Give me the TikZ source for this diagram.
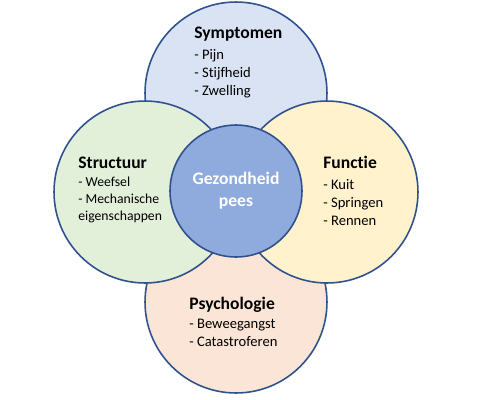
\documentclass[tikz,border=0pt]{standalone}
\usepackage{fontspec}
\setmainfont{Carlito}[Ligatures=NoCommon]
\definecolor{edge}{HTML}{2F528F}
\definecolor{sympfill}{HTML}{DAE3F3}
\definecolor{strucfill}{HTML}{E2F0D9}
\definecolor{funcfill}{HTML}{FFF2CC}
\definecolor{psychfill}{HTML}{FBE5D6}
\definecolor{corefill}{HTML}{8FAADC}

\begin{document}
\begin{tikzpicture}[x=0.02cm,y=-0.02cm,
    blob/.style={circle,draw=edge,line width=0.9pt,minimum size=3.64cm,inner sep=0pt,outer sep=0pt},
    heading/.style={font=\fontsize{10}{12}\selectfont\bfseries,inner sep=0pt,anchor=base west},
    items/.style={font=\fontsize{8.3}{10}\selectfont,align=left,inner sep=0pt,anchor=base west}]
  \useasboundingbox[fill=white] (0,0) rectangle (495,400);

  % outer circles, drawn back to front
  \node[blob,fill=sympfill] (symp) at (236,93) {};
  \node[blob,fill=psychfill] (psych) at (236,302) {};
  \node[blob,fill=strucfill] (struc) at (145,192) {};
  \node[blob,fill=funcfill] (func) at (327,192) {};
  \node[blob,fill=corefill,minimum size=2.64cm] (core) at (236,191) {};

  % headings at their baseline, lists at the baseline of their last line
  \node[heading] (sympT) at (194,38) {Symptomen};
  \node[items] (sympL) at (194,95) {- Pijn\\- Stijfheid\\- Zwelling};

  \node[heading] (strucT) at (78,168) {Structuur};
  \node[items,font=\fontsize{7.8}{9.5}\selectfont] (strucL) at (78,220)
    {- Weefsel\\- Mechanische\\eigenschappen};

  \node[heading] (funcT) at (323,168) {Functie};
  \node[items] (funcL) at (323,225) {- Kuit\\- Springen\\- Rennen};

  \node[heading] (psychT) at (189,309) {Psychologie};
  \node[items] (psychL) at (189,346) {- Beweegangst\\- Catastroferen};

  \node[font=\fontsize{10}{12.5}\selectfont\bfseries,text=white,align=center,inner sep=0pt]
    (coreT) at (core) {Gezondheid\\pees};
\end{tikzpicture}
\end{document}
